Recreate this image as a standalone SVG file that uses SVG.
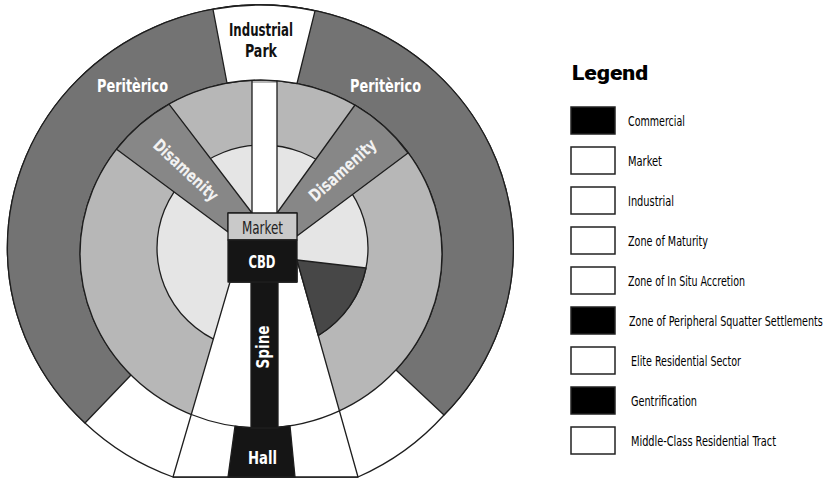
<svg xmlns="http://www.w3.org/2000/svg" width="828" height="478" viewBox="0 0 828 478">
<style>
.ln{stroke:#1e1e1e;stroke-width:1.3;stroke-linejoin:round}
.t{font-family:"Liberation Sans Narrow","DejaVu Sans Condensed","Liberation Sans",sans-serif}
.b{font-weight:bold}
.w{fill:#ffffff}
.k{fill:#111111}
.lg{font-family:"Liberation Sans Narrow","DejaVu Sans Condensed","Liberation Sans",sans-serif;font-size:14.5px;fill:#000000}
.box{stroke:#222222;stroke-width:1.5}
</style>
<rect width="828" height="478" fill="#ffffff"/>
<g id="city-model">
  <g id="outer-base">
    <path class="ln" fill="#ffffff" d="M173,477 L358,477 A253 243 0 0 0 444,415 A253 243 0 1 0 85,423 A253 243 0 0 0 173,477 Z"/>
  </g>
  <g id="periterico">
    <path class="ln" fill="#737373" d="M85,423 A253 243 0 1 1 444,415 L396,370 A181 174 0 1 0 131,375 Z"/>
  </g>
  <g id="zone-in-situ-accretion">
    <ellipse class="ln" fill="#b7b7b7" cx="261" cy="254" rx="181" ry="174"/>
  </g>
  <g id="zone-of-maturity">
    <ellipse class="ln" fill="#e5e5e5" cx="262.5" cy="248" rx="105.5" ry="103"/>
  </g>
  <g id="elite-residential-sector">
    <path class="ln" fill="#ffffff" d="M230,282 L173,477 L358,477 L297,260 L297,282 Z"/>
    <path class="ln" fill="none" d="M191.3,414.5 A181 174 0 0 0 339.4,410.8"/>
  </g>
  <g id="industrial-park">
    <path class="ln" fill="#ffffff" d="M213,9.3 A253 243 0 0 1 315,10.8 L297,83.5 A181 174 0 0 0 227,83 Z"/>
  </g>
  <g id="industrial-strip">
    <rect x="252" y="83" width="25" height="130" fill="#ffffff"/>
    <path class="ln" fill="none" d="M252,80.5 L252,213 M277,80.5 L277,213"/>
  </g>
  <g id="disamenity-left">
    <path class="ln" fill="#878787" d="M252,213 L169,104.2 A181 174 0 0 0 116.6,149.2 L228,232 L228,213 Z"/>
  </g>
  <g id="disamenity-right">
    <path class="ln" fill="#878787" d="M277,213 L355,105 A181 174 0 0 1 408,153 L297,236 L297,213 Z"/>
  </g>
  <g id="squatter-wedge">
    <path class="ln" fill="#474747" d="M297,260 L366,268 A105.5 103 0 0 1 318.3,335.5 Z"/>
  </g>
  <g id="hall">
    <path class="ln" fill="#151515" d="M235,426.2 A181 174 0 0 0 290,425.8 L295,477 L228,477 Z"/>
  </g>
  <g id="spine">
    <rect class="ln" x="251" y="282" width="27" height="146" fill="#151515"/>
  </g>
  <g id="market">
    <rect class="ln" x="228" y="213" width="69" height="27" fill="#c9c9c9"/>
  </g>
  <g id="cbd">
    <rect class="ln" x="228" y="240" width="69" height="42" fill="#151515"/>
  </g>
  <g id="labels">
    <text class="t b k" x="261" y="36" font-size="18" text-anchor="middle" textLength="64" lengthAdjust="spacingAndGlyphs">Industrial</text>
    <text class="t b k" x="261" y="57" font-size="18" text-anchor="middle" textLength="32" lengthAdjust="spacingAndGlyphs">Park</text>
    <text class="t b w" x="132.5" y="92" font-size="18" text-anchor="middle" textLength="71" lengthAdjust="spacingAndGlyphs">Peritèrico</text>
    <text class="t b w" x="385.5" y="92" font-size="18" text-anchor="middle" textLength="71" lengthAdjust="spacingAndGlyphs">Peritèrico</text>
    <text class="t b" fill="#f2f2f2" font-size="17" text-anchor="middle" transform="translate(186,170) rotate(43)" x="0" y="6" textLength="82" lengthAdjust="spacingAndGlyphs">Disamenity</text>
    <text class="t b" fill="#f2f2f2" font-size="17" text-anchor="middle" transform="translate(342.5,170) rotate(-42)" x="0" y="6" textLength="84" lengthAdjust="spacingAndGlyphs">Disamenity</text>
    <text class="t" fill="#222222" x="262.5" y="234" font-size="18" text-anchor="middle" textLength="41" lengthAdjust="spacingAndGlyphs">Market</text>
    <text class="t b w" x="262" y="268" font-size="17" text-anchor="middle" textLength="27" lengthAdjust="spacingAndGlyphs">CBD</text>
    <text class="t b w" font-size="17" text-anchor="middle" transform="translate(269,347) rotate(-90)" x="0" y="0" textLength="43" lengthAdjust="spacingAndGlyphs">Spine</text>
    <text class="t b w" x="262.5" y="464" font-size="18" text-anchor="middle" textLength="29" lengthAdjust="spacingAndGlyphs">Hall</text>
  </g>
</g>
<g id="connectors"/>
<g id="legend">
  <text x="572" y="80" font-family="Roboto,'Liberation Sans',sans-serif" font-weight="900" font-size="20" fill="#000000" textLength="76" lengthAdjust="spacingAndGlyphs">Legend</text>
  <g id="legend-commercial"><rect class="box" x="571" y="107" width="44" height="27" fill="#000000"/><text class="lg" x="628" y="126" textLength="57" lengthAdjust="spacingAndGlyphs">Commercial</text></g>
  <g id="legend-market"><rect class="box" x="571" y="147" width="44" height="27" fill="#ffffff"/><text class="lg" x="628" y="166" textLength="34" lengthAdjust="spacingAndGlyphs">Market</text></g>
  <g id="legend-industrial"><rect class="box" x="571" y="187" width="44" height="27" fill="#ffffff"/><text class="lg" x="628" y="206" textLength="46" lengthAdjust="spacingAndGlyphs">Industrial</text></g>
  <g id="legend-maturity"><rect class="box" x="571" y="227" width="44" height="27" fill="#ffffff"/><text class="lg" x="628" y="246" textLength="80" lengthAdjust="spacingAndGlyphs">Zone of Maturity</text></g>
  <g id="legend-in-situ"><rect class="box" x="571" y="267" width="44" height="27" fill="#ffffff"/><text class="lg" x="628" y="286" textLength="117" lengthAdjust="spacingAndGlyphs">Zone of In Situ Accretion</text></g>
  <g id="legend-squatter"><rect class="box" x="571" y="307" width="44" height="27" fill="#000000"/><text class="lg" transform="translate(629,326) scale(0.76,1)" x="0" y="0" textLength="255" lengthAdjust="spacingAndGlyphs">Zone of Peripheral Squatter Settlements</text></g>
  <g id="legend-elite"><rect class="box" x="571" y="347" width="44" height="27" fill="#ffffff"/><text class="lg" x="631" y="366" textLength="110" lengthAdjust="spacingAndGlyphs">Elite Residential Sector</text></g>
  <g id="legend-gentrification"><rect class="box" x="571" y="387" width="44" height="27" fill="#000000"/><text class="lg" x="631" y="406" textLength="66" lengthAdjust="spacingAndGlyphs">Gentrification</text></g>
  <g id="legend-middle-class"><rect class="box" x="571" y="427" width="44" height="27" fill="#ffffff"/><text class="lg" x="631" y="446" textLength="145" lengthAdjust="spacingAndGlyphs">Middle-Class Residential Tract</text></g>
</g>
</svg>
